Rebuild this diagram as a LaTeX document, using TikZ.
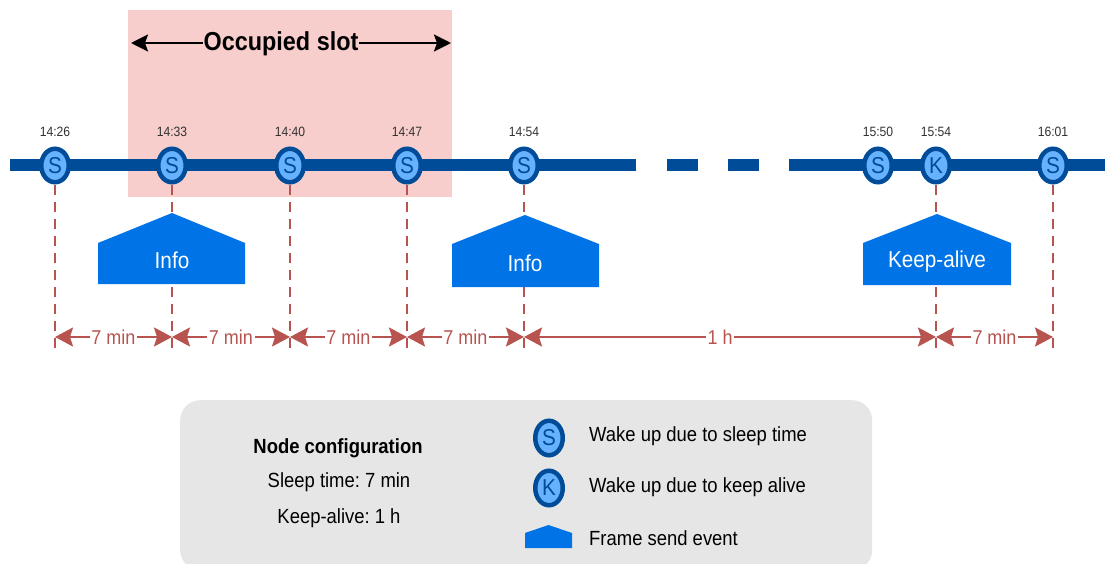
\documentclass[tikz,border=0pt]{standalone}
\usepackage{fontspec}
\setmainfont{Liberation Sans}[FakeStretch=0.9]
\usetikzlibrary{shapes.geometric,arrows.meta}
\frenchspacing
\definecolor{lineblue}{HTML}{004C99}
\definecolor{dotfill}{HTML}{66B2FF}
\definecolor{sendblue}{HTML}{0073E6}
\definecolor{dimred}{HTML}{B85450}
\definecolor{slotpink}{HTML}{F8CECC}
\definecolor{legendgray}{HTML}{E6E6E6}
\definecolor{timegray}{HTML}{333333}
\tikzset{
  wake/.style={ellipse, draw=lineblue, line width=4.5pt, fill=dotfill,
    minimum width=27.5pt, minimum height=33.5pt, inner sep=0pt, text=lineblue,
    font=\fontsize{23}{23}\selectfont},
  timelabel/.style={text=timegray, inner sep=0pt, font=\fontsize{13.5}{14}\selectfont},
  track/.style={draw=lineblue, line width=12pt},
  tick/.style={draw=dimred, line width=2.4pt, dash pattern=on 10pt off 7pt},
  sendshape/.style={fill=sendblue},
  sendtext/.style={text=white, inner sep=0pt, font=\fontsize{23}{23}\selectfont},
  span/.style={draw=dimred, line width=2.5pt, {Stealth[length=18pt,width=19pt,inset=3pt]}-{Stealth[length=18pt,width=19pt,inset=3pt]}},
  spantext/.style={fill=white, text=dimred, inner xsep=1.5pt, inner ysep=2pt, font=\fontsize{20}{20}\selectfont},
  slotspan/.style={draw=black, line width=2.5pt, {Stealth[length=17pt,width=17pt,inset=3pt]}-{Stealth[length=17pt,width=17pt,inset=3pt]}},
  legendtext/.style={inner sep=0pt, font=\fontsize{20.5}{21}\selectfont},
}
\begin{document}
\begin{tikzpicture}[x=1pt,y=-1pt]
\useasboundingbox (0,0) rectangle (1105,564);

% occupied slot band
\fill[slotpink] (128,10) rectangle (452,197);
\coordinate (slotL) at (131,43);
\coordinate (slotR) at (451,43);
\draw[slotspan] (slotL) -- (slotR);
\node[fill=slotpink, inner xsep=1pt, inner ysep=3pt, font=\bfseries\fontsize{26}{26}\selectfont] (slot) at (281,44) {Occupied slot};

% time axis with a break
\coordinate (a0) at (10,165.5);   \coordinate (a1) at (636,165.5);
\coordinate (g1) at (667,165.5);  \coordinate (g2) at (698,165.5);
\coordinate (g3) at (728,165.5);  \coordinate (g4) at (759,165.5);
\coordinate (b0) at (789,165.5);  \coordinate (b1) at (1105,165.5);
\draw[track] (a0) -- (a1);
\draw[track] (g1) -- (g2);
\draw[track] (g3) -- (g4);
\draw[track] (b0) -- (b1);

% wake-up events
\node[wake] (w1) at (55,165.5) {S};
\node[wake] (w2) at (172,165.5) {S};
\node[wake] (w3) at (290,165.5) {S};
\node[wake] (w4) at (407,165.5) {S};
\node[wake] (w5) at (524,165.5) {S};
\node[wake] (w6) at (878,165.5) {S};
\node[wake] (w7) at (936,165.5) {K};
\node[wake] (w8) at (1053,165.5) {S};

\node[timelabel] (t1) at (55,132) {14:26};
\node[timelabel] (t2) at (172,132) {14:33};
\node[timelabel] (t3) at (290,132) {14:40};
\node[timelabel] (t4) at (407,132) {14:47};
\node[timelabel] (t5) at (524,132) {14:54};
\node[timelabel] (t6) at (878,132) {15:50};
\node[timelabel] (t7) at (936,132) {15:54};
\node[timelabel] (t8) at (1053,132) {16:01};

% drop lines
\foreach \i/\x in {1/55,2/172,3/290,4/407,5/524,7/936,8/1053}{
  \coordinate (d\i) at (\x,348);
  \draw[tick] (d\i) -- (w\i.south);
}

% frame send events
\fill[sendshape] (98,284) -- (98,243) -- (172,213) -- (245,243) -- (245,284) -- cycle;
\node[sendtext] (f1) at (172,260) {Info};
\fill[sendshape] (452,287) -- (452,244) -- (525,215) -- (599,244) -- (599,287) -- cycle;
\node[sendtext] (f2) at (525,263) {Info};
\fill[sendshape] (863,285) -- (863,243) -- (937,214) -- (1011,243) -- (1011,285) -- cycle;
\node[sendtext] (f3) at (937,262) {Keep-alive};

% intervals
\coordinate (m1) at (55,337);  \coordinate (m2) at (172,337);
\coordinate (m3) at (290,337); \coordinate (m4) at (407,337);
\coordinate (m5) at (524,337); \coordinate (m7) at (936,337);
\coordinate (m8) at (1053,337);
\draw[span] (m1) -- (m2) node[spantext, midway] {7 min};
\draw[span] (m2) -- (m3) node[spantext, midway] {7 min};
\draw[span] (m3) -- (m4) node[spantext, midway] {7 min};
\draw[span] (m4) -- (m5) node[spantext, midway] {7 min};
\draw[span] (m5) -- (m7) node[spantext, pos=0.476] {1 h};
\draw[span] (m7) -- (m8) node[spantext, midway] {7 min};

% legend
\node[fill=legendgray, rounded corners=20pt, minimum width=692pt, minimum height=170pt,
      anchor=north west, inner sep=0pt] (legend) at (180,400) {};
\node[legendtext, font=\bfseries\fontsize{20.5}{21}\selectfont] (cfg) at (338,448) {Node configuration};
\node[legendtext] (cfgsleep) at (339,482) {Sleep time: 7 min};
\node[legendtext] (cfgka) at (339,518) {Keep-alive: 1 h};

\node[wake, minimum height=34.5pt] (ls) at (549,438) {S};
\node[wake, minimum height=34.5pt] (lk) at (549,488) {K};
\fill[sendshape] (525,548) -- (525,533) -- (548.5,525) -- (572,533) -- (572,548) -- cycle;
\node[legendtext, anchor=west] (lst) at (589,436) {Wake up due to sleep time};
\node[legendtext, anchor=west] (lkt) at (589,487) {Wake up due to keep alive};
\node[legendtext, anchor=west] (lft) at (589,538) {Frame send event};
\end{tikzpicture}
\end{document}
